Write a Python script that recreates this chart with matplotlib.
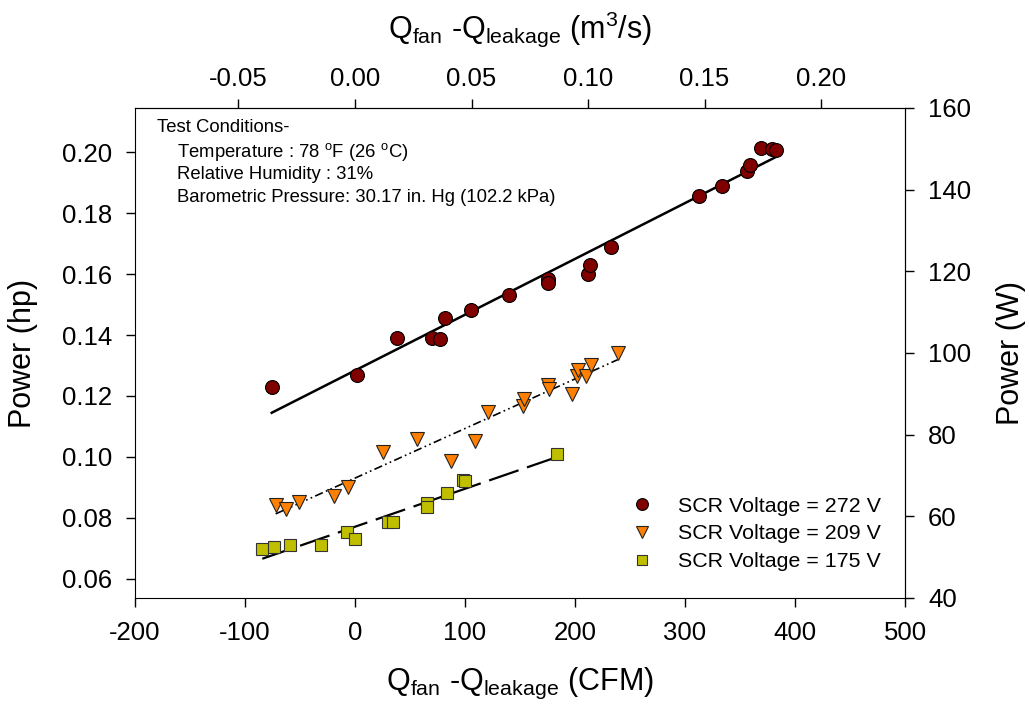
import numpy as np
import matplotlib
matplotlib.use('Agg')
import matplotlib.pyplot as plt

plt.rcParams['font.family'] = ['Liberation Sans', 'DejaVu Sans']
plt.rcParams['mathtext.fontset'] = 'custom'
plt.rcParams['mathtext.rm'] = 'Liberation Sans'
plt.rcParams['axes.unicode_minus'] = False

# dados: x em CFM, potencia em hp
x_272 = [-75.7, 1.5, 37.9, 69.7, 77.3, 81.8, 105.5, 140.0, 175.7, 175.7,
         212.1, 213.6, 232.7, 313.0, 333.6, 356.6, 359.1, 368.8, 378.8, 382.7]
p_272 = [0.1230, 0.1268, 0.1389, 0.1390, 0.1387, 0.1457, 0.1481, 0.1533, 0.1585, 0.1572,
         0.1601, 0.1630, 0.1689, 0.1858, 0.1890, 0.1940, 0.1958, 0.2013, 0.2011, 0.2009]

x_209 = [-72.1, -63.0, -51.2, -19.4, -6.6, 25.2, 56.1, 87.3, 108.8, 120.6,
         153.0, 153.9, 175.5, 176.6, 197.0, 202.1, 203.0, 210.0, 214.3, 238.8]
p_209 = [0.0843, 0.0830, 0.0852, 0.0872, 0.0902, 0.1017, 0.1057, 0.0987, 0.1051, 0.1147,
         0.1167, 0.1190, 0.1236, 0.1222, 0.1206, 0.1266, 0.1284, 0.1266, 0.1301, 0.1342]

x_175 = [-84.3, -73.4, -59.1, -30.6, -7.3, 0.3, 30.3, 34.8, 65.2, 65.7,
         83.9, 98.5, 100.3, 183.9]
p_175 = [0.0696, 0.0704, 0.0712, 0.0712, 0.0752, 0.0729, 0.0787, 0.0787, 0.0847, 0.0834,
         0.0880, 0.0924, 0.0921, 0.1009]

rotulos = ['SCR Voltage = 272 V', 'SCR Voltage = 209 V', 'SCR Voltage = 175 V']

CFM_M3S = 0.000471947  # 1 CFM em m3/s
HP_W = 745.7           # 1 hp em W

fig = plt.figure(figsize=(10.29, 7.04), dpi=100)
ax = fig.add_axes([0.1312, 0.1506, 0.7483, 0.696])

# pontos
ax.plot(x_272, p_272, 'o', ms=10, mfc='#800000', mec='black', mew=0.8, zorder=5, label=rotulos[0])
ax.plot(x_209, p_209, 'v', ms=10, mfc='#FF8000', mec='#222222', mew=0.8, zorder=5, label=rotulos[1])
ax.plot(x_175, p_175, 's', ms=8.5, mfc='#BFBF00', mec='#333333', mew=0.8, zorder=5, label=rotulos[2])

# retas de regressao
def reta(x, y):
    a, b = np.polyfit(x, y, 1)
    xx = np.array([min(x), max(x)])
    return xx, a * xx + b

xr, yr = reta(x_272, p_272)
ax.plot(xr, yr, '-', color='black', lw=1.8, zorder=4)
xr, yr = reta(x_209, p_209)
ax.plot(xr, yr, color='black', lw=1.2, ls=(0, (5, 2, 1, 2, 1, 2)), zorder=4)
xr, yr = reta(x_175, p_175)
ax.plot(xr, yr, color='black', lw=1.6, ls=(0, (14, 4)), zorder=4)

ax.set_xlim(-200, 500)
ax.set_ylim(40 / HP_W, 160 / HP_W)
ax.set_xticks(np.arange(-200, 501, 100))
ax.set_yticks(np.arange(0.06, 0.201, 0.02))
ax.yaxis.set_major_formatter(plt.FormatStrFormatter('%.2f'))
ax.tick_params(direction='out', length=6.5, width=1, labelsize=18.5, pad=10)

ax.set_xlabel(r'$\mathregular{Q_{fan}}$ -$\mathregular{Q_{leakage}}$ (CFM)', fontsize=22, labelpad=15)
ax.set_ylabel('Power (hp)', fontsize=22, labelpad=17)

# eixo superior em m3/s
top = ax.secondary_xaxis('top', functions=(lambda x: x * CFM_M3S, lambda x: x / CFM_M3S))
top.set_xticks(np.arange(-0.05, 0.201, 0.05))
top.xaxis.set_major_formatter(plt.FormatStrFormatter('%.2f'))
top.tick_params(direction='out', length=6.5, width=1, labelsize=18.5, pad=6)
top.set_xlabel(r'$\mathregular{Q_{fan}}$ -$\mathregular{Q_{leakage}}$ (m$\mathregular{^3}$/s)', fontsize=22, labelpad=21)

# eixo direito em W
dir_ = ax.secondary_yaxis('right', functions=(lambda p: p * HP_W, lambda w: w / HP_W))
dir_.set_yticks(np.arange(40, 161, 20))
dir_.tick_params(direction='out', length=6.5, width=1, labelsize=18.5, pad=10)
dir_.set_ylabel('Power (W)', fontsize=22, labelpad=18)

# condicoes do ensaio
kw = dict(transform=ax.transAxes, fontsize=13.3, va='baseline')
ax.text(0.0286, 0.951, 'Test Conditions-', **kw)
ax.text(0.0545, 0.900, r'Temperature : 78 $\mathregular{^o}$F (26 $\mathregular{^o}$C)', **kw)
ax.text(0.0545, 0.855, 'Relative Humidity : 31%', **kw)
ax.text(0.0545, 0.808, 'Barometric Pressure: 30.17 in. Hg (102.2 kPa)', **kw)

ax.legend(loc='lower left', bbox_to_anchor=(0.644, 0.055), frameon=False, fontsize=15.4,
          handlelength=1.0, handletextpad=1.2, labelspacing=0.4, borderpad=0, borderaxespad=0,
          markerscale=0.85)

fig.savefig('out.png', dpi=100)
